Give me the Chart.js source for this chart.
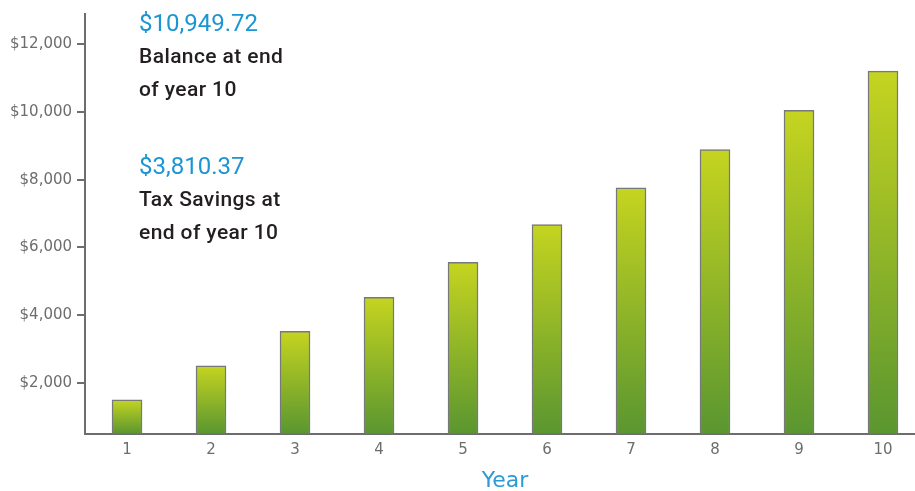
<!DOCTYPE html>
<html>
<head>
<meta charset="utf-8">
<script src="https://cdn.jsdelivr.net/npm/chart.js@4.4.1/dist/chart.umd.min.js"></script>
<style>
  html, body { margin: 0; padding: 0; overflow: hidden; background: #fff; }
  #wrap { position: relative; width: 926px; height: 491px; }
  .note { position: absolute; left: 139px; font-family: Roboto, sans-serif; line-height: 33px; }
  .note .amount { font-size: 24px; color: #1b95d3; }
  .note .line { font-size: 21px; font-weight: 500; letter-spacing: 0.4px; color: #231f20; }
</style>
</head>
<body>
<div id="wrap">
  <canvas id="chart"></canvas>
</div>
<script>
// chart values
const years = ['1', '2', '3', '4', '5', '6', '7', '8', '9', '10'];
const balances = [1500, 2500, 3520, 4530, 5560, 6680, 7760, 8890, 10050, 11210];
const yTicks = [2000, 4000, 6000, 8000, 10000, 12000];
const xTitle = 'Year';

// callout texts
const noteAmounts = ['$10,949.72', '$3,810.37'];
const noteLines = [['Balance at end', 'of year 10'], ['Tax Savings at', 'end of year 10']];

const wrap = document.getElementById('wrap');
noteAmounts.forEach((amount, i) => {
  const div = document.createElement('div');
  div.className = 'note';
  div.style.top = (7 + i * 143) + 'px';
  let html = `<div class="amount">${amount}</div>`;
  noteLines[i].forEach((l) => { html += `<div class="line">${l}</div>`; });
  div.innerHTML = html;
  wrap.appendChild(div);
});

const axisGray = '#6d6d6f';

// per-bar vertical gradient, yellow-green at top to green at the base
function barFill(context) {
  const chart = context.chart;
  const y = chart.scales.y;
  if (!chart.chartArea || !y || context.raw == null) return '#8db52b';
  const top = y.getPixelForValue(context.raw);
  const bottom = y.getPixelForValue(y.min);
  if (!isFinite(top) || !isFinite(bottom) || top === bottom) return '#8db52b';
  const g = chart.ctx.createLinearGradient(0, top, 0, bottom);
  g.addColorStop(0, '#c5d420');
  g.addColorStop(1, '#5a9630');
  return g;
}

new Chart(document.getElementById('chart'), {
  type: 'bar',
  data: {
    labels: years,
    datasets: [{
      data: balances,
      backgroundColor: barFill,
      borderColor: '#77787a',
      borderWidth: 1.5,
      borderSkipped: 'bottom',
      barThickness: 30,
    }],
  },
  options: {
    responsive: true,
    maintainAspectRatio: false,
    animation: false,
    layout: { padding: { top: 12, left: 5, right: 1, bottom: -3 } },
    plugins: { legend: { display: false }, tooltip: { enabled: false } },
    scales: {
      x: {
        grid: { display: true, drawOnChartArea: false, drawTicks: false, color: axisGray },
        border: { display: true, color: axisGray, width: 2 },
        ticks: {
          color: '#6d6d6d',
          padding: 8,
          font: { family: 'DejaVu Sans', size: 15 },
        },
        title: {
          display: true,
          text: xTitle,
          color: '#2a9ad6',
          font: { family: 'DejaVu Sans', size: 22 },
          padding: { top: 0, bottom: 0 },
        },
      },
      y: {
        min: 500,
        max: 12900,
        afterBuildTicks: (scale) => {
          scale.ticks = yTicks.map((v) => ({ value: v }));
        },
        grid: { display: true, drawOnChartArea: false, drawTicks: true, tickLength: 8, color: axisGray, lineWidth: 2 },
        border: { display: true, color: axisGray, width: 2 },
        ticks: {
          color: '#6d6d6d',
          padding: 5,
          font: { family: 'DejaVu Sans', size: 15 },
          callback: (v) => '$' + Number(v).toLocaleString('en-US'),
        },
      },
    },
  },
});
</script>
</body>
</html>
